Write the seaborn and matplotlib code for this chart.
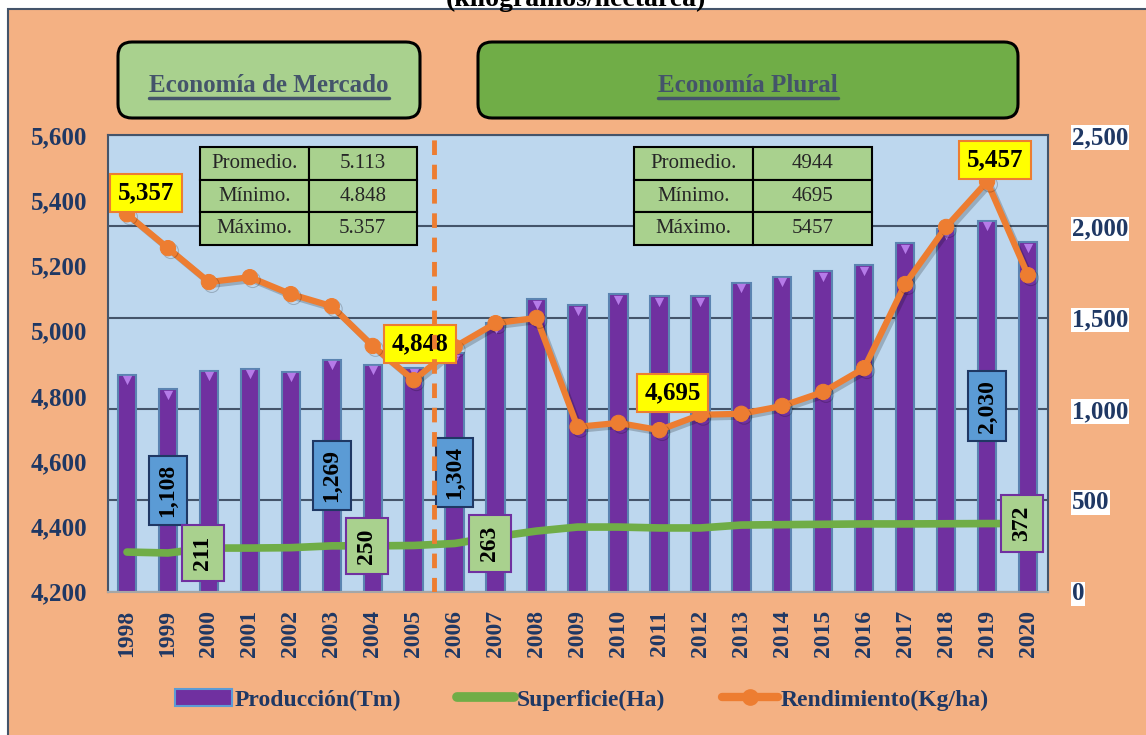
import numpy as np
import pandas as pd
import matplotlib
matplotlib.use("Agg")
import matplotlib.pyplot as plt
import matplotlib.patheffects as pe
import matplotlib.transforms as mtransforms
from matplotlib.patches import Rectangle, FancyBboxPatch, Patch
from matplotlib.lines import Line2D
import seaborn as sns

# datos
years = list(range(1998, 2021))
produccion = [1187, 1108, 1209, 1220, 1203, 1269, 1242, 1225, 1304, 1470, 1602, 1569,
              1629, 1618, 1618, 1690, 1723, 1755, 1788, 1908, 1985, 2030, 1914]
superficie = [216, 211, 238, 238, 240, 250, 250, 252, 263, 300, 331, 353,
              353, 348, 348, 364, 366, 368, 370, 370, 371, 372, 372]
rendimiento = [5357, 5253, 5149, 5164, 5112, 5075, 4953, 4848, 4950, 5023, 5039, 4705,
               4717, 4695, 4742, 4745, 4769, 4812, 4885, 5143, 5318, 5457, 5170]

label_years = [1999, 2003, 2006, 2019]
rend_label_years = [1998, 2005, 2011, 2019]

tabla_mercado = [["Promedio.", "5.113"], ["Mínimo.", "4.848"], ["Máximo.", "5.357"]]
tabla_plural = [["Promedio.", "4944"], ["Mínimo.", "4695"], ["Máximo.", "5457"]]

df = pd.DataFrame({"year": years, "prod": produccion, "sup": superficie, "rend": rendimiento})

SALMON = "#F4B183"
NAVY = "#1F3864"
SERIF = "Liberation Serif"

sns.set_style("white")
plt.rcParams["font.family"] = [SERIF, "DejaVu Serif"]

fig = plt.figure(figsize=(11.46, 7.35), dpi=100, facecolor="white")
fig.add_artist(Rectangle((8, -5), 1150, 735 - 9 + 5, transform=mtransforms.IdentityTransform(),
                         facecolor=SALMON, edgecolor="#44546A", lw=1.5, zorder=-5))

ax = fig.add_axes([108 / 1146, 1 - 591.5 / 735, 940 / 1146, 456.5 / 735])
ax.set_facecolor("#BDD7EE")
ax2 = ax.twinx()

# barras y superficie (eje derecho)
sns.barplot(data=df, x="year", y="prod", ax=ax, native_scale=True, color="#7030A0",
            width=0.45, saturation=1, edgecolor="#5B84B1", linewidth=1.5, zorder=2)
tri = ax.transData + mtransforms.ScaledTranslation(0, -4 / 72, fig.dpi_scale_trans)
ax.scatter(df["year"], df["prod"], marker="v", s=45, color="#B57BE8", zorder=3,
           transform=tri, linewidths=0)
sns.lineplot(data=df, x="year", y="sup", ax=ax, color="#70AD47", lw=5.5, zorder=4,
             solid_capstyle="round")

ax.set_ylim(0, 2500)
ax.set_yticks(range(0, 2501, 500))
ax.set_yticklabels([f"{v:,}" for v in range(0, 2501, 500)])
ax.yaxis.tick_right()
ax.grid(axis="y", color="#44546A", lw=1.5)
ax.set_axisbelow(True)
ax.set_xlim(1998 - 0.464, 2020 + 0.488)
ax.set_xticks(years)
ax.set_xticklabels([str(y) for y in years], rotation=90)
ax.set_xlabel("")
ax.set_ylabel("")
ax.tick_params(axis="x", length=0, pad=13, labelsize=17, labelcolor=NAVY)
ax.tick_params(axis="y", length=0, pad=17, labelsize=18, labelcolor=NAVY)
for t in ax.get_xticklabels():
    t.set_fontweight("bold")
for t in ax.get_yticklabels():
    t.set_fontweight("bold")
    t.set_bbox(dict(facecolor="white", edgecolor="none", pad=0.5))
for s in ax.spines.values():
    s.set_color("#44546A")
    s.set_linewidth(1.5)
ax.spines["bottom"].set_color("#A6A6A6")

# etiquetas produccion / superficie
for y in label_years:
    i = years.index(y)
    ax.text(y, produccion[i] / 2, f"{produccion[i]:,}", rotation=90, ha="center", va="center",
            fontsize=17, fontweight="bold", color="black", zorder=6,
            bbox=dict(boxstyle="square,pad=0.35", facecolor="#5B9BD5", edgecolor=NAVY, lw=1.5))
    ax.annotate(f"{superficie[i]}", (y, superficie[i]), xytext=(35, 0), textcoords="offset pixels",
                rotation=90, ha="center", va="center", fontsize=17, fontweight="bold",
                color="black", zorder=7,
                bbox=dict(boxstyle="square,pad=0.45", facecolor="#A9D18E", edgecolor="#7030A0", lw=1.5))

# rendimiento (eje izquierdo)
ax2.patch.set_visible(False)
sns.lineplot(data=df, x="year", y="rend", ax=ax2, color="#ED7D31", lw=4.5, marker="o",
             markersize=11, markeredgecolor="#ED7D31", zorder=5,
             path_effects=[pe.SimpleLineShadow(offset=(2, -2), alpha=0.2), pe.Normal()])
ax2.set_ylim(4200, 5600)
ax2.set_yticks(range(4200, 5601, 200))
ax2.set_yticklabels([f"{v:,}" for v in range(4200, 5601, 200)])
ax2.yaxis.tick_left()
ax2.set_ylabel("")
ax2.tick_params(axis="y", length=0, pad=15, labelsize=18, labelcolor=NAVY)
for t in ax2.get_yticklabels():
    t.set_fontweight("bold")
for s in ax2.spines.values():
    s.set_visible(False)

offsets = {1998: (19, 21), 2005: (6, 36), 2011: (13, 37), 2019: (8, 22)}
for y in rend_label_years:
    i = years.index(y)
    ax2.annotate(f"{rendimiento[i]:,}", (y, rendimiento[i]), xytext=offsets[y],
                 textcoords="offset pixels", ha="center", va="center", fontsize=18,
                 fontweight="bold", color="black", zorder=8,
                 bbox=dict(boxstyle="square,pad=0.3", facecolor="#FFFF00", edgecolor="#ED7D31", lw=1.5))

ax2.axvline(2005.5, color="#ED7D31", lw=3.5, ls=(0, (3, 2)), zorder=9)

# tablas
for data, bbox in [(tabla_mercado, [0.0979, 0.759, 0.2309, 0.2147]),
                   (tabla_plural, [0.5596, 0.759, 0.2532, 0.2147])]:
    tb = ax2.table(cellText=data, cellLoc="center", bbox=bbox, zorder=10)
    tb.auto_set_font_size(False)
    for (r, c), cell in tb.get_celld().items():
        cell.set_facecolor("#A9D18E")
        cell.set_edgecolor("black")
        cell.set_linewidth(1.5)
        cell.get_text().set_fontsize(15)
        cell.get_text().set_family(SERIF)

# cajas superiores
ident = mtransforms.IdentityTransform()
for (x0, x1, fc, txt) in [(118, 420, "#A9D18E", "Economía de Mercado"),
                          (478, 1018, "#70AD47", "Economía Plural")]:
    fig.add_artist(FancyBboxPatch((x0, 735 - 118), x1 - x0, 76, transform=ident,
                                  boxstyle="round,pad=0,rounding_size=14",
                                  facecolor=fc, edgecolor="black", lw=2.2, zorder=2))
    fig.text((x0 + x1) / 2 / 1146, 1 - 85 / 735, txt, ha="center", va="center",
             fontsize=18, fontweight="bold", color="#44546A", zorder=3)

# titulo cortado (como en el original)
fig.text(576 / 1146, 1 - 6 / 735, "(kilogramos/hectárea)", ha="center", va="baseline",
         fontsize=20, fontweight="bold", color="black")

# leyenda
handles = [Patch(facecolor="#7030A0", edgecolor="#5B9BD5", lw=1.5),
           Line2D([], [], color="#70AD47", lw=7, solid_capstyle="round"),
           Line2D([], [], color="#ED7D31", lw=6, marker="o", markersize=11)]
labels = ["Producción(Tm)", "Superficie(Ha)", "Rendimiento(Kg/ha)"]
leg = fig.legend(handles, labels, loc="center", bbox_to_anchor=(582 / 1146, 1 - 700 / 735),
                 ncol=3, frameon=False, handlelength=2.4, handletextpad=0.1, columnspacing=2.4,
                 prop={"family": SERIF, "weight": "bold", "size": 17})
for t in leg.get_texts():
    t.set_color(NAVY)

# subrayado de las cajas
fig.canvas.draw()
r = fig.canvas.get_renderer()
for t in fig.texts[:2]:
    bb = t.get_window_extent(r)
    fig.add_artist(Line2D([bb.x0, bb.x1], [bb.y0 - 1, bb.y0 - 1], transform=ident,
                          color="#44546A", lw=2.5, zorder=3))

fig.savefig("out.png", dpi=100, facecolor=fig.get_facecolor())
